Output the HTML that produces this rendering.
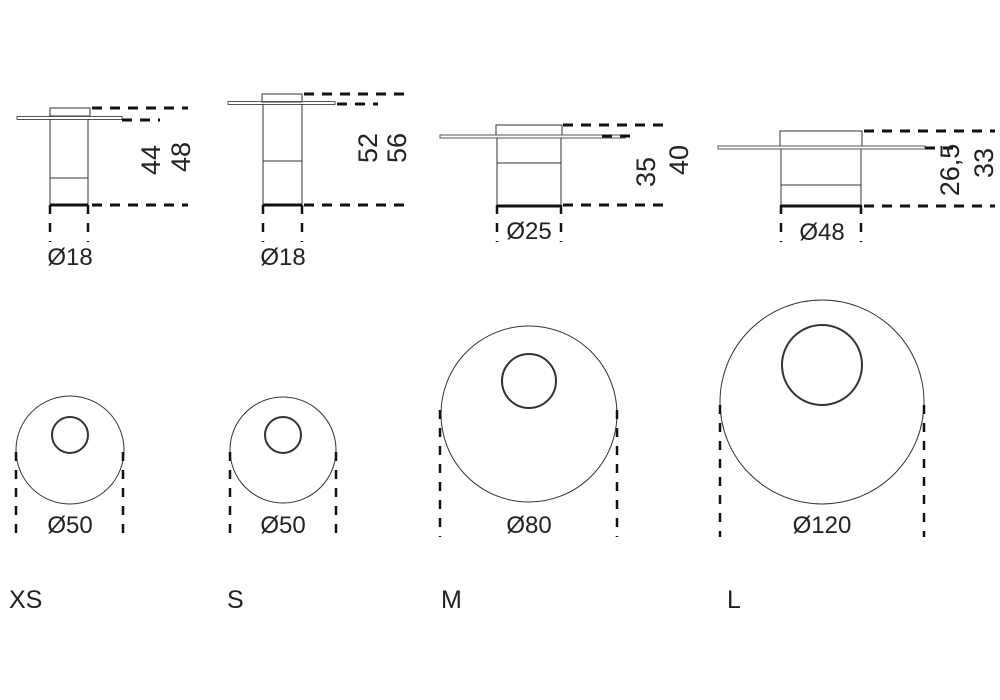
<!DOCTYPE html>
<html><head><meta charset="utf-8"><style>
html,body{margin:0;padding:0;background:#fff;}
svg{display:block;}
text{font-family:"Liberation Sans",sans-serif;fill:#222;}
</style></head><body>
<svg width="1000" height="700" viewBox="0 0 1000 700" xmlns="http://www.w3.org/2000/svg">
<g fill="none" stroke="#333" stroke-width="1">
<!-- XS side -->
<rect x="50" y="108" width="40" height="8"/>
<rect x="17" y="116.5" width="105" height="3" stroke="#555"/>
<line x1="50" y1="119" x2="50" y2="205"/><line x1="88" y1="119" x2="88" y2="205"/>
<line x1="50" y1="178" x2="88" y2="178"/>
<!-- S side -->
<rect x="262" y="94" width="40" height="8"/>
<rect x="228" y="101.5" width="107" height="3" stroke="#555"/>
<line x1="263" y1="104" x2="263" y2="205"/><line x1="302" y1="104" x2="302" y2="205"/>
<line x1="263" y1="161" x2="302" y2="161"/>
<!-- M side -->
<rect x="496" y="125" width="66" height="10"/>
<rect x="440" y="135" width="185" height="3" stroke="#555"/>
<line x1="497" y1="138" x2="497" y2="205"/><line x1="561" y1="138" x2="561" y2="205"/>
<line x1="497" y1="163" x2="561" y2="163"/>
<!-- L side -->
<rect x="780" y="131" width="82" height="15"/>
<rect x="718" y="146" width="207" height="3" stroke="#555"/>
<line x1="781" y1="149" x2="781" y2="206"/><line x1="861" y1="149" x2="861" y2="206"/>
<line x1="781" y1="185" x2="861" y2="185"/>
<!-- circles -->
<circle cx="70" cy="450" r="54"/>
<circle cx="70" cy="435" r="18" stroke-width="2"/>
<circle cx="283" cy="450" r="53"/>
<circle cx="283" cy="435" r="18" stroke-width="2"/>
<circle cx="529" cy="414" r="88"/>
<circle cx="529" cy="381" r="27" stroke-width="2"/>
<circle cx="822" cy="402" r="102"/>
<circle cx="822" cy="365" r="40" stroke-width="2"/>
</g>
<g stroke="#111" stroke-width="3" fill="none">
<line x1="50" y1="205" x2="88" y2="205"/>
<line x1="263" y1="205" x2="302" y2="205"/>
<line x1="497" y1="206" x2="561" y2="206"/>
<line x1="781" y1="206" x2="861" y2="206"/>
</g>
<g stroke="#111" stroke-width="3" fill="none" stroke-dasharray="10,8">
<line x1="92" y1="108" x2="188" y2="108"/>
<line x1="122" y1="120" x2="160" y2="120"/>
<line x1="92" y1="205" x2="188" y2="205"/>
<line x1="304" y1="94" x2="405" y2="94"/>
<line x1="337" y1="104" x2="378" y2="104"/>
<line x1="304" y1="205" x2="405" y2="205"/>
<line x1="563" y1="125" x2="665" y2="125"/>
<line x1="602" y1="136" x2="637" y2="136"/>
<line x1="563" y1="205" x2="665" y2="205"/>
<line x1="864" y1="131" x2="995" y2="131"/>
<line x1="925" y1="148" x2="958" y2="148"/>
<line x1="864" y1="206" x2="995" y2="206"/>
</g>
<g stroke="#111" stroke-width="2.5" fill="none" stroke-dasharray="9,9">
<line x1="50" y1="205" x2="50" y2="242"/><line x1="88" y1="205" x2="88" y2="242"/>
<line x1="263" y1="205" x2="263" y2="242"/><line x1="302" y1="205" x2="302" y2="242"/>
<line x1="497" y1="205" x2="497" y2="242"/><line x1="561" y1="205" x2="561" y2="242"/>
<line x1="781" y1="205" x2="781" y2="242"/><line x1="861" y1="205" x2="861" y2="242"/>
<line x1="16" y1="452" x2="16" y2="535"/><line x1="123" y1="452" x2="123" y2="535"/>
<line x1="230" y1="452" x2="230" y2="535"/><line x1="336" y1="452" x2="336" y2="535"/>
<line x1="440" y1="410" x2="440" y2="537"/><line x1="617" y1="410" x2="617" y2="537"/>
<line x1="720" y1="405" x2="720" y2="537"/><line x1="924" y1="405" x2="924" y2="537"/>
</g>
<g font-size="24" text-anchor="middle">
<text x="70" y="265">Ø18</text>
<text x="283" y="265">Ø18</text>
<text x="529" y="239">Ø25</text>
<text x="822" y="240">Ø48</text>
<text x="70" y="533">Ø50</text>
<text x="283" y="533">Ø50</text>
<text x="529" y="533">Ø80</text>
<text x="822" y="533">Ø120</text>
</g>
<g font-size="27" text-anchor="middle">
<text transform="translate(160,160) rotate(-90)">44</text>
<text transform="translate(190,157) rotate(-90)">48</text>
<text transform="translate(377,148) rotate(-90)">52</text>
<text transform="translate(406,148) rotate(-90)">56</text>
<text transform="translate(655,172) rotate(-90)">35</text>
<text transform="translate(688,160) rotate(-90)">40</text>
<text transform="translate(959,170) rotate(-90)">26,5</text>
<text transform="translate(993,163) rotate(-90)">33</text>
</g>
<g font-size="25">
<text x="9" y="608">XS</text>
<text x="227" y="608">S</text>
<text x="441" y="608">M</text>
<text x="727" y="608">L</text>
</g>
</svg>
</body></html>
